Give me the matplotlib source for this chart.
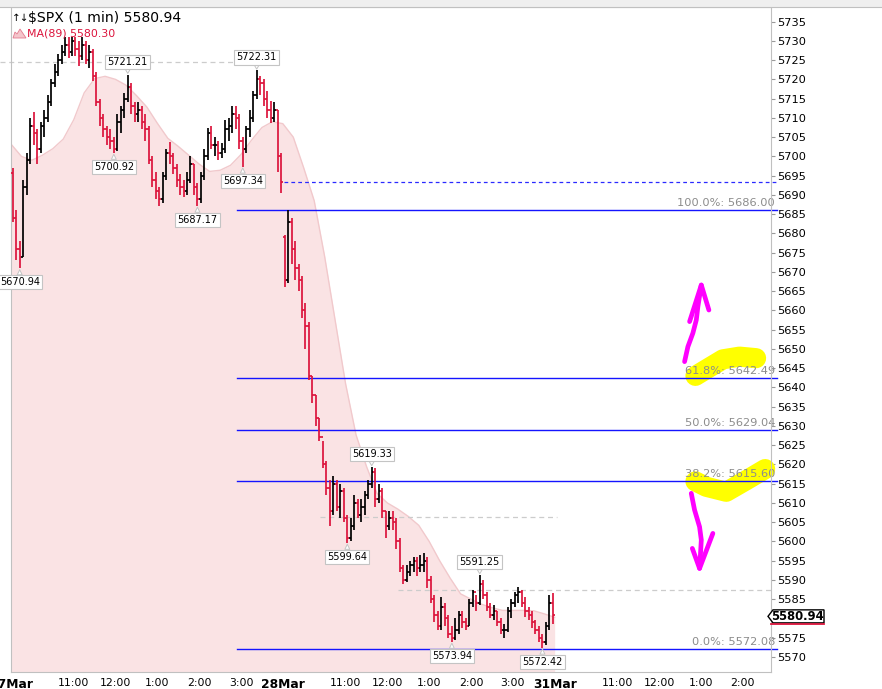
import matplotlib
matplotlib.use("Agg")
import numpy as np
import matplotlib.pyplot as plt
from matplotlib.collections import LineCollection
from matplotlib.patches import Polygon, Rectangle
from matplotlib.lines import Line2D
import matplotlib.transforms as mtransforms

W, H, DPI = 882, 689, 100

# ---------------- data ----------------
symbol_title = "$SPX (1 min) 5580.94"
ma_title = "MA(89) 5580.30"
day_labels = ["27Mar", "28Mar", "31Mar"]
hour_labels = ["11:00", "12:00", "1:00", "2:00", "3:00"]
hour_offsets = [90, 150, 210, 270, 330]          # minutes after 9:30
session_len = 390
bar_len = 5
y_ticks = list(range(5570, 5740, 5))

# 5-minute bars, 27 Mar
day1_open = 5695.6
day1_close = [5684, 5676, 5674, 5692, 5699, 5708, 5706, 5702, 5708, 5710,
              5714, 5719, 5722, 5725, 5727, 5729, 5727, 5730, 5728, 5726,
              5729, 5725, 5727, 5721, 5714, 5710, 5707, 5705, 5704, 5702,
              5709, 5712, 5715, 5718, 5713, 5711, 5712, 5709, 5707, 5699,
              5694, 5691, 5689, 5695, 5701, 5700, 5697, 5694, 5692, 5691,
              5694, 5698, 5692, 5689, 5695, 5700, 5706, 5703, 5703, 5701,
              5702, 5707, 5708, 5711, 5710, 5704, 5702, 5707, 5710, 5716,
              5720, 5719, 5715, 5712, 5710, 5712, 5700, 5693.31]
day1_high = [5697, 5686, 5678, 5694, 5701, 5710, 5711.5, 5707, 5709, 5712,
             5716, 5720, 5724, 5726.5, 5729, 5731, 5731, 5731, 5731, 5730,
             5731, 5730, 5729, 5728, 5722, 5715, 5711, 5708, 5707, 5705,
             5711, 5713, 5716.5, 5721.21, 5719, 5714, 5714, 5713, 5711, 5708,
             5700, 5696, 5692, 5696, 5702, 5703.8, 5701, 5698, 5695.5, 5694,
             5696, 5700, 5698, 5693, 5696, 5702, 5707.5, 5708, 5705, 5704,
             5703.5, 5709.5, 5710, 5713, 5713, 5711, 5705, 5708, 5712, 5717,
             5722.31, 5721, 5720, 5717, 5714.5, 5714, 5712, 5701]
day1_low = [5683, 5673, 5670.94, 5674, 5690, 5698, 5703, 5698, 5701, 5705,
            5709, 5713, 5718, 5721, 5724, 5726, 5725.5, 5726, 5726, 5723.5,
            5725, 5724, 5723, 5719.5, 5713, 5708, 5705, 5703, 5702, 5700.92,
            5701.5, 5706, 5710, 5714, 5711, 5709, 5709, 5707, 5704, 5698,
            5692, 5689, 5687, 5688, 5694, 5698, 5695.5, 5692, 5690, 5689.5,
            5690, 5693, 5690, 5687.17, 5688, 5694, 5699, 5702, 5700, 5699,
            5699.5, 5701, 5704, 5706, 5707, 5702, 5697.34, 5701, 5705, 5709,
            5715, 5716, 5713, 5710, 5708.7, 5709, 5696, 5690.5]

# 5-minute bars, 28 Mar
day2_open = 5679.0
day2_close = [5668, 5683, 5676, 5671, 5668, 5660, 5656, 5643, 5638, 5632,
              5627, 5620, 5614, 5608, 5615, 5609, 5613, 5606, 5601, 5604,
              5610, 5607, 5609, 5612, 5615, 5618, 5611, 5613, 5608, 5604,
              5606, 5605, 5600, 5593, 5590, 5592, 5594, 5595, 5593, 5594,
              5595, 5590, 5585, 5581, 5578, 5583, 5580, 5576, 5575, 5577,
              5581, 5579, 5578, 5584, 5587, 5584, 5589, 5586, 5583, 5581,
              5582, 5579, 5577, 5577, 5582, 5584, 5586, 5587, 5584, 5582,
              5581, 5579, 5577, 5575, 5574, 5578, 5584, 5580.94]
day2_high = [5679.5, 5686.0, 5684, 5678, 5672, 5669, 5662, 5657, 5643, 5638,
             5632, 5626, 5621, 5616, 5617, 5616, 5615, 5614, 5607, 5606,
             5612, 5611, 5611, 5613, 5616, 5619.33, 5619, 5615, 5614, 5608,
             5608, 5608, 5606, 5601, 5594, 5594, 5595, 5596, 5596, 5596.5,
             5597, 5596, 5591, 5586, 5582, 5585.7, 5584, 5581, 5578, 5580,
             5582, 5582, 5580, 5585, 5587.5, 5586, 5591.25, 5590, 5587, 5584,
             5583.5, 5582, 5580, 5578.5, 5583, 5585, 5587, 5588.3, 5587.5, 5585.5,
             5583, 5582, 5579.5, 5578, 5576, 5579, 5586, 5586.5]
day2_low = [5666, 5667, 5672, 5668, 5665, 5658, 5650, 5642, 5636, 5630,
            5626, 5619, 5612, 5604, 5607, 5608, 5606, 5605, 5599.64, 5600,
            5603, 5606, 5605, 5607, 5611, 5614, 5609, 5610, 5606, 5601,
            5603, 5603, 5598, 5592, 5589, 5589.5, 5591, 5592, 5591, 5592,
            5592, 5588, 5584, 5579, 5577, 5577, 5578, 5575, 5573.94, 5574.5,
            5576, 5577.5, 5577, 5578, 5583, 5582, 5583.5, 5585, 5582, 5580,
            5579.5, 5578, 5576, 5575, 5576.5, 5580, 5583, 5584, 5583, 5580.5,
            5579.5, 5577.5, 5576, 5574, 5572.42, 5573, 5577, 5578.5]

# MA(89), sampled every 15 minutes from 27 Mar 9:30 to 28 Mar close
ma_step = 15
ma89 = [5703.2, 5700.0, 5699.0, 5700.3, 5702.0, 5704.5, 5709.5, 5716.5, 5720.2, 5720.8,
        5720.0, 5718.5, 5715.8, 5712.8, 5708.6, 5704.7, 5702.6, 5700.3, 5698.0, 5696.1,
        5696.4, 5697.7, 5700.5, 5704.2, 5707.5, 5709.0, 5708.5, 5705.0, 5697.0, 5688.5,
        5674.0, 5657.5, 5641.0, 5627.7, 5619.5, 5612.5, 5610.0, 5608.4, 5606.5, 5604.2,
        5600.0, 5595.0, 5590.5, 5586.4, 5585.0, 5583.7, 5582.8, 5582.1, 5582.1, 5582.1,
        5582.0, 5581.2, 5580.3]

# swing labels
label_values = [5670.94, 5721.21, 5700.92, 5687.17, 5697.34, 5722.31,
                5619.33, 5599.64, 5591.25, 5573.94, 5572.42]
label_kinds = ["low", "high", "low", "low", "low", "high",
               "high", "low", "high", "low", "low"]

# Fibonacci retracement
fib_pcts = ["100.0%", "61.8%", "50.0%", "38.2%", "0.0%"]
fib_levels = [5686.00, 5642.49, 5629.04, 5615.60, 5572.08]
fib_start_min = 324

# reference lines (price, start minute, end minute)
gray_dash_levels = [5724.6, 5606.3, 5587.4]
gray_dash_spans = [(-16, 321), (443, 783), (555, 1095)]
prev_close_start = 392

# hand-drawn marks (minute, price)
up_arrow_stem = [(966.4, 5646.7), (971.2, 5650.6), (978.3, 5654.1), (983.2, 5657.5),
                 (985.5, 5661.0), (990.4, 5666.6)]
up_arrow_barbs = [(973.6, 5657.1), (990.4, 5666.6), (1001.3, 5660.1)]
down_arrow_stem = [(976.0, 5612.5), (980.7, 5608.2), (987.9, 5603.8), (990.4, 5600.4),
                   (989.0, 5596.0), (987.9, 5593.0)]
down_arrow_barbs = [(977.5, 5598.2), (987.9, 5593.0), (1007.0, 5602.1)]
yellow_upper = [(982.0, 5643.0), (997.5, 5644.7), (1021.4, 5647.3), (1045.3, 5648.0),
                (1069.0, 5647.6)]
yellow_lower = [(982.0, 5615.6), (997.5, 5614.2), (1026.2, 5612.9), (1054.9, 5615.9),
                (1082.0, 5618.8)]

# ---------------- build bars ----------------
xs, opens, highs, lows, closes = [], [], [], [], []
for d, (o0, cl, hi, lo) in enumerate([(day1_open, day1_close, day1_high, day1_low),
                                       (day2_open, day2_close, day2_high, day2_low)]):
    prev = o0
    for k in range(len(cl)):
        xs.append(d * session_len + bar_len * k + bar_len / 2)
        opens.append(prev)
        highs.append(hi[k])
        lows.append(lo[k])
        closes.append(cl[k])
        prev = cl[k]
xs = np.array(xs); opens = np.array(opens); highs = np.array(highs)
lows = np.array(lows); closes = np.array(closes)

RED = "#dc143c"
fig = plt.figure(figsize=(W / DPI, H / DPI), dpi=DPI)
fig.patch.set_facecolor("white")
ax = fig.add_axes([11 / W, 1 - 672 / H, 760 / W, 665 / H])
ax.set_xlim(0, 1090.4)
ax.set_ylim(5566.1, 5738.8)
ax.set_facecolor("white")

# MA area
ma_x = np.arange(len(ma89)) * ma_step
ax.fill_between(ma_x, ma89, 5566.1, color="#fae3e4", lw=0, zorder=1)
ax.plot(ma_x, ma89, color="#f1c9cc", lw=1.0, zorder=1.2)

# reference dashed lines
for lvl, (a, b) in zip(gray_dash_levels, gray_dash_spans):
    ax.plot([a, b], [lvl, lvl], color="#cccccc", lw=0.9, dashes=(4, 3),
            zorder=1.5, clip_on=False)
ax.plot([prev_close_start, 1099], [day1_close[-1]] * 2, color="#2a2aff", lw=0.9,
        dashes=(3, 2.5), zorder=2, clip_on=False)

# yellow highlights
for pts in (yellow_upper, yellow_lower):
    p = np.array(pts)
    ax.plot(p[:, 0], p[:, 1], color="#ffff00", lw=14.5, solid_capstyle="round",
            solid_joinstyle="round", zorder=1.8, clip_on=False)

# fib lines + labels
blend = mtransforms.blended_transform_factory(ax.transAxes, ax.transData)
for pct, lvl in zip(fib_pcts, fib_levels):
    ax.plot([fib_start_min, 1099], [lvl, lvl], color="#1414ff", lw=1.0,
            zorder=2.2, clip_on=False)
    ax.annotate(f"{pct}: {lvl:.2f}", xy=(1.0, lvl), xycoords=blend,
                xytext=(4, 2), textcoords="offset pixels", ha="right", va="bottom",
                fontsize=8.2, color="#8c8c8c", annotation_clip=False, zorder=2.5)

# OHLC bars
segs, cols = [], []
tick = bar_len / 2
for x, o, h, l, c in zip(xs, opens, highs, lows, closes):
    col = "black" if c >= o else RED
    segs += [[(x, l), (x, h)], [(x - tick, o), (x, o)], [(x, c), (x + tick, c)]]
    cols += [col] * 3
ax.add_collection(LineCollection(segs, colors=cols, linewidths=1.25, zorder=3))

# swing labels
for v, kind in zip(label_values, label_kinds):
    arr = lows if kind == "low" else highs
    i = int(np.where(np.isclose(arr, v))[0][0])
    off = -14 if kind == "low" else 13
    ax.annotate(f"{v:.2f}", xy=(xs[i], v), xytext=(0, off), textcoords="offset pixels",
                ha="center", va="center", fontsize=7, color="black", zorder=6,
                bbox=dict(boxstyle="square,pad=0.22", fc="white", ec="#c4c4c4", lw=0.8),
                arrowprops=dict(arrowstyle="wedge,tail_width=0.5,shrink_factor=0.5",
                                fc="white", ec="#c4c4c4", lw=0.7, shrinkA=0, shrinkB=1),
                annotation_clip=False)

# magenta arrows
for pts in (up_arrow_stem, up_arrow_barbs, down_arrow_stem, down_arrow_barbs):
    p = np.array(pts)
    ax.plot(p[:, 0], p[:, 1], color="#ff00ff", lw=3.4, solid_capstyle="round",
            solid_joinstyle="round", zorder=4, clip_on=False)

# axes styling
for s in ax.spines.values():
    s.set_color("#c0c0c0")
    s.set_linewidth(0.8)
ax.yaxis.tick_right()
ax.set_yticks(y_ticks)
# the 5580 label sits under the last-price marker, as in the original chart
ax.set_yticklabels(["" if t == 5580 else str(t) for t in y_ticks])
ax.tick_params(axis="y", length=3, color="#9a9a9a", labelsize=8.2, pad=1.2,
               labelcolor="black")

xt, xl, xb = [], [], []
for d, dl in enumerate(day_labels):
    xt.append(d * session_len); xl.append(dl); xb.append(True)
    for off, hl in zip(hour_offsets, hour_labels):
        m = d * session_len + off
        if m <= 1090:
            xt.append(m); xl.append(hl); xb.append(False)
ax.set_xticks(xt)
ax.set_xticklabels(xl)
ax.tick_params(axis="x", length=0, pad=4, labelsize=7.8, labelcolor="black")
for lab, b in zip(ax.get_xticklabels(), xb):
    if b:
        lab.set_fontweight("bold")
        lab.set_fontsize(8.8)

# ---------------- figure decorations (pixel coords) ----------------
ident = mtransforms.IdentityTransform()
def P(px, py):
    return (px, H - py)

fig.add_artist(Rectangle(P(0, 6.5), W, 6.5, transform=ident, fc="#efefef", ec="none"))
fig.add_artist(Line2D([0, W], [H - 7, H - 7], transform=ident, color="#c0c0c0", lw=0.8))

fig.text(*P(12, 18), "↑↓", transform=ident, fontsize=7.5, ha="left", va="center",
         color="black")
fig.text(*P(28, 18), symbol_title, transform=ident, fontsize=10.1, ha="left",
         va="center", color="black")
icon = [P(13, 38), P(15, 32), P(17, 34), P(20, 29), P(24, 35), P(26, 38)]
fig.add_artist(Polygon(icon, closed=True, transform=ident, fc="#f4c6cc",
                       ec="#e37b8f", lw=0.6))
fig.text(*P(27, 33), ma_title, transform=ident, fontsize=7.9, ha="left",
         va="center", color=RED)

# last price box on the axis
fig.canvas.draw()
yd = ax.transData.transform((0, closes[-1]))[1] - 1.5
box = [(768, yd), (773, yd + 6.5), (824, yd + 6.5), (824, yd - 6.5), (773, yd - 6.5)]
fig.add_artist(Polygon(box, closed=True, transform=ident, fc="white", ec="black", lw=1.0))
fig.add_artist(Line2D([771, 824], [yd - 7.5, yd - 7.5], transform=ident, color=RED, lw=1.3))
fig.text(797, yd, f"{closes[-1]:.2f}", transform=ident, fontsize=8.4,
         fontweight="bold", ha="center", va="center", color="black")

fig.savefig("out.png", dpi=DPI, facecolor="white")
